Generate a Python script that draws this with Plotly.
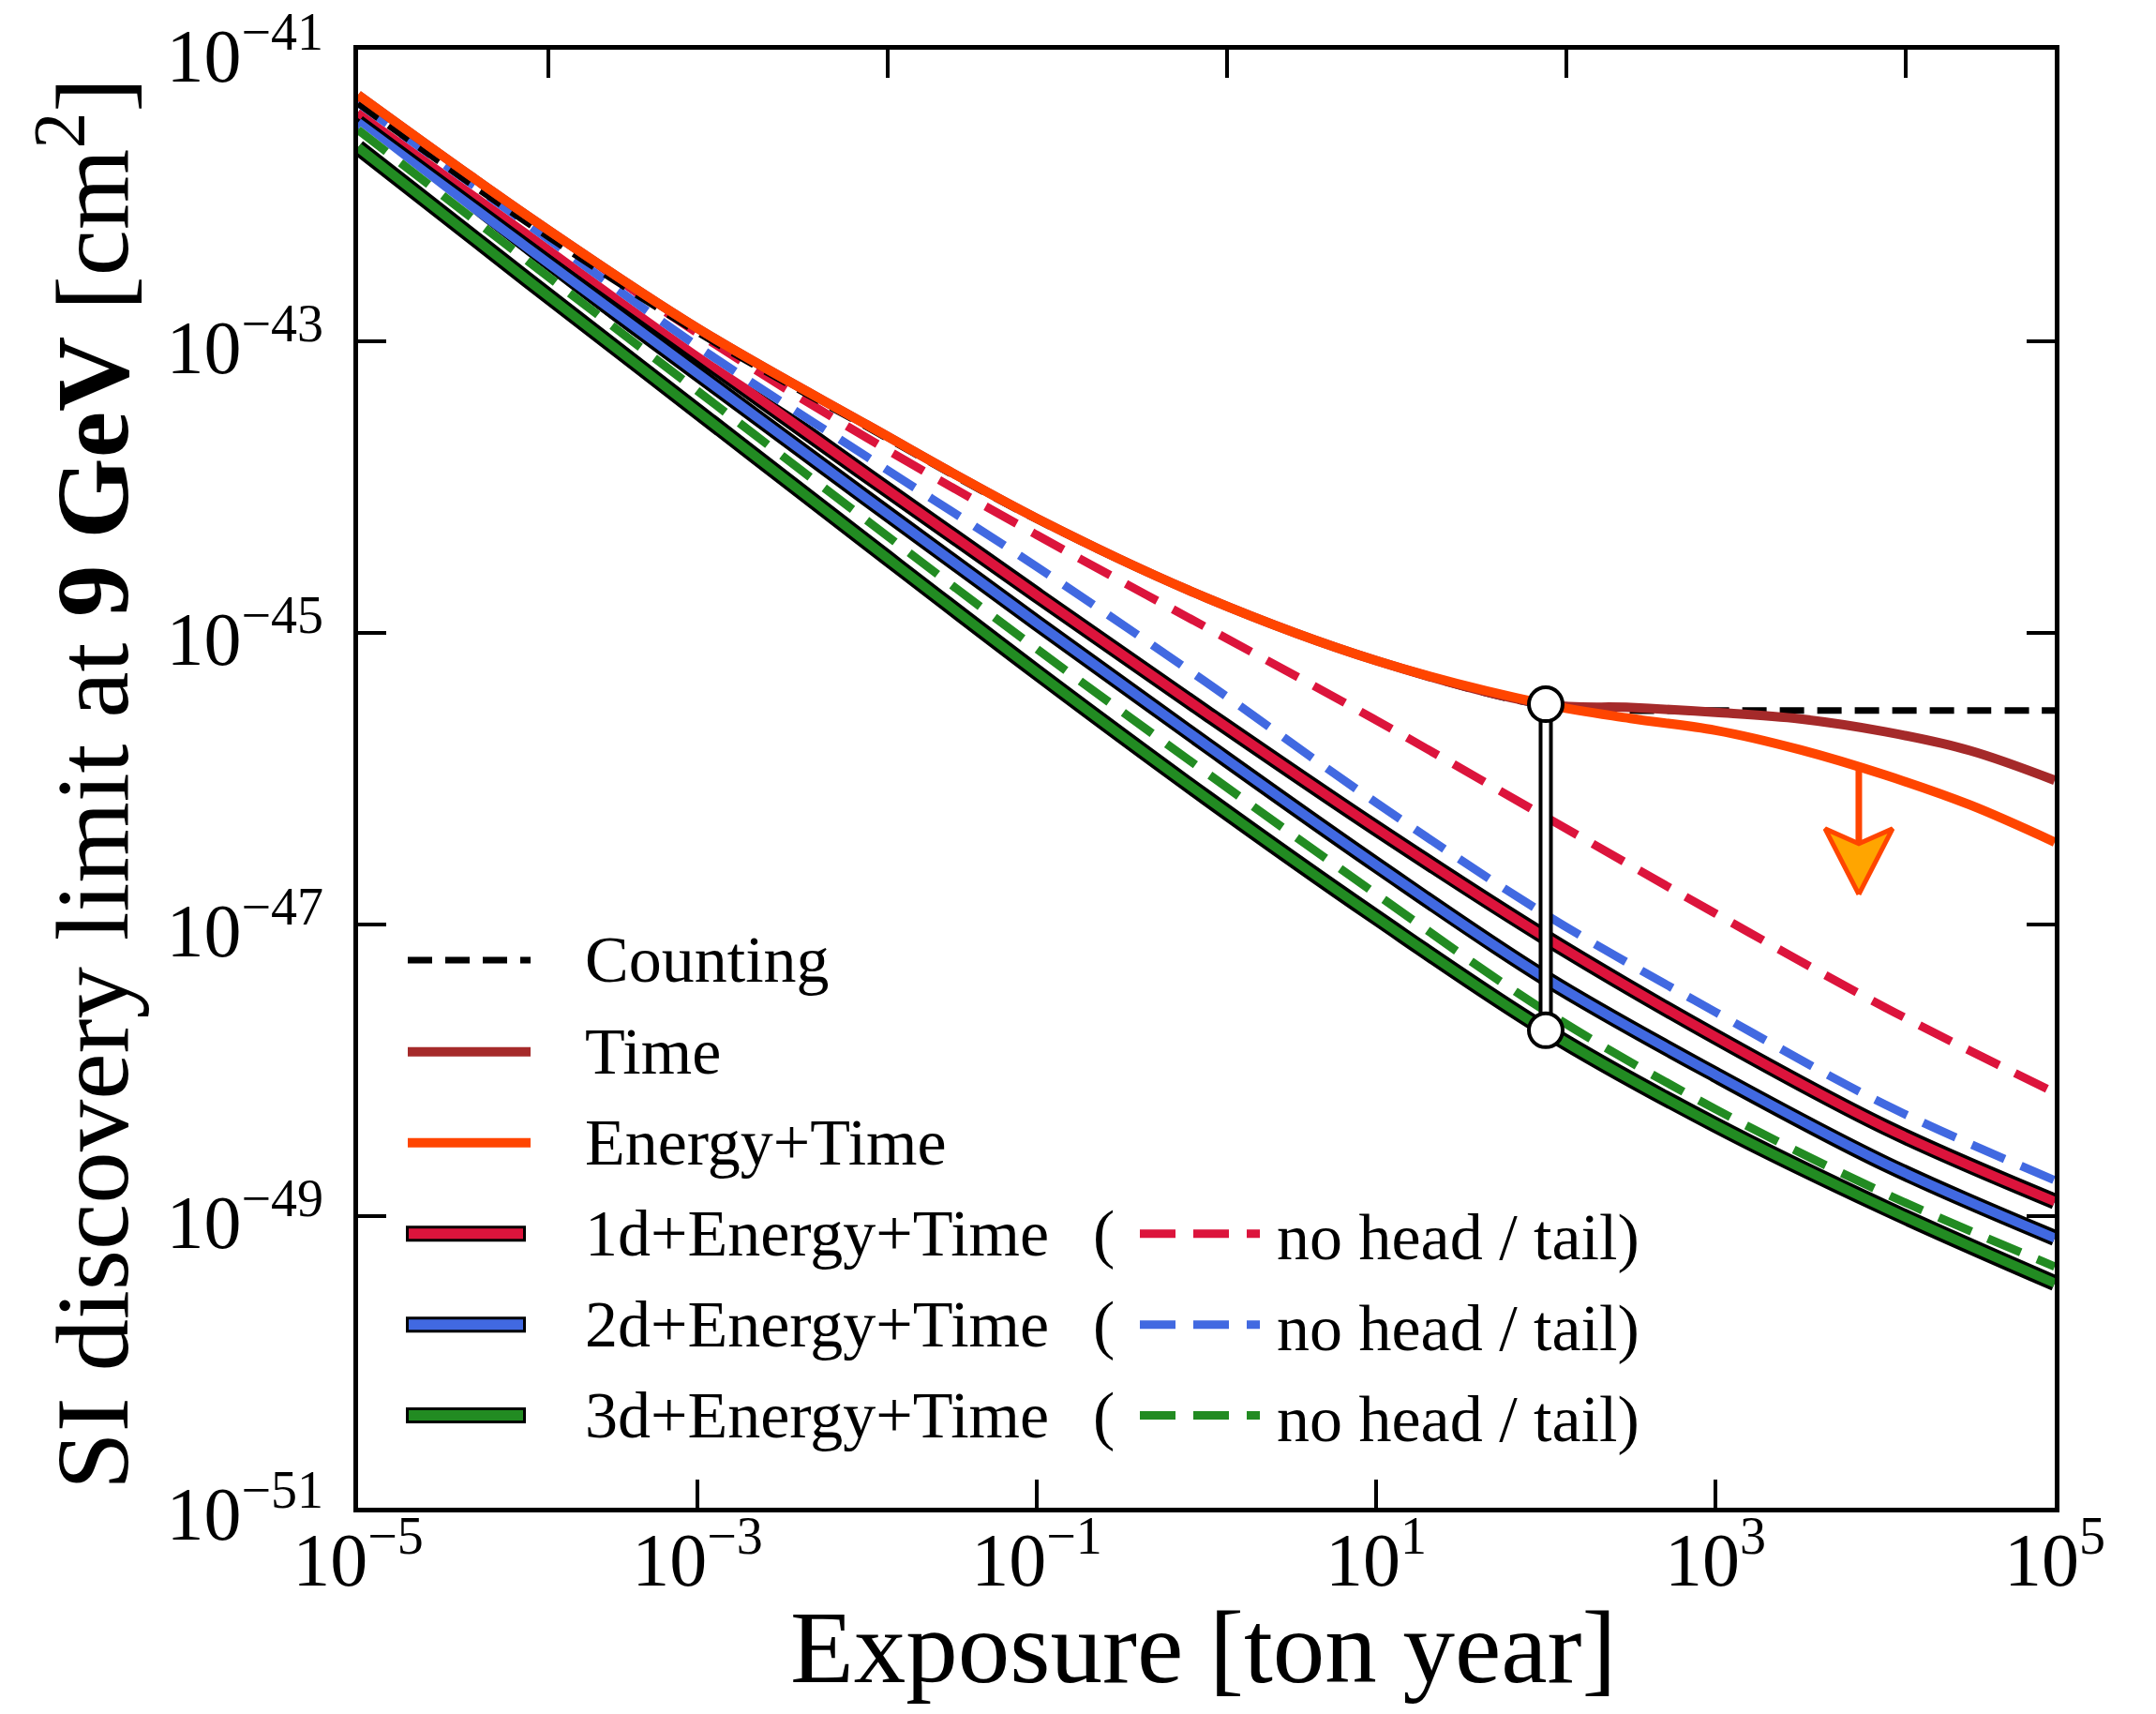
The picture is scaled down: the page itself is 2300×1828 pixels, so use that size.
import numpy as np
import plotly.graph_objects as go

# ---------------- data ----------------
EXPOSURE = [1e-5, 1e-4, 1e-3, 1e-2, 1e-1, 1, 10, 100, 1e3, 1e4, 1e5]
EXPOSURE_TAIL = [1e-5, 1e-4, 1e-3, 1e-2, 1e-1, 1, 10, 100, 316, 1e3, 3162, 1e4, 31623, 1e5]

LIMIT_COUNTING = [4.27e-42, 6.46e-43, 1.15e-43, 2.57e-44, 5.96e-45, 1.72e-45, 6.38e-46, 3.16e-46,
                  2.94e-46, 2.94e-46, 2.94e-46, 2.94e-46, 2.94e-46, 2.94e-46]
LIMIT_TIME = [4.90e-42, 7.24e-43, 1.23e-43, 2.67e-44, 6.10e-45, 1.74e-45, 6.46e-46, 3.24e-46,
              3.08e-46, 2.85e-46, 2.57e-46, 2.10e-46, 1.56e-46, 9.75e-47]
LIMIT_ENERGY_TIME = [4.90e-42, 7.24e-43, 1.23e-43, 2.67e-44, 6.10e-45, 1.74e-45, 6.46e-46, 3.24e-46,
                     2.59e-46, 2.15e-46, 1.58e-46, 1.06e-46, 6.61e-47, 3.67e-47]

LIMIT_1D = [3.72e-42, 5.50e-43, 8.13e-44, 1.20e-44, 1.82e-45, 2.82e-46, 4.57e-47, 8.13e-48, 1.70e-48, 4.07e-49, 1.26e-49]
LIMIT_1D_NOHT = [4.54e-42, 7.03e-43, 1.14e-43, 2.17e-44, 4.70e-45, 1.09e-45, 2.52e-46, 5.46e-47, 1.19e-47, 2.70e-48, 7.03e-49]
LIMIT_2D = [3.16e-42, 4.37e-43, 6.03e-44, 8.32e-45, 1.17e-45, 1.70e-46, 2.57e-47, 4.27e-48, 9.33e-49, 2.29e-49, 7.08e-50]
LIMIT_2D_NOHT = [4.32e-42, 6.35e-43, 9.25e-44, 1.61e-44, 2.84e-45, 4.58e-46, 6.85e-47, 1.17e-47, 2.51e-48, 5.82e-49, 1.76e-49]
LIMIT_3D = [2.14e-42, 2.63e-43, 3.31e-44, 4.17e-45, 5.37e-46, 7.41e-47, 1.12e-47, 1.88e-48, 4.22e-49, 1.14e-49, 3.47e-50]
LIMIT_3D_NOHT = [2.82e-42, 3.55e-43, 4.57e-44, 5.89e-45, 7.76e-46, 1.10e-46, 1.62e-47, 2.54e-48, 5.42e-49, 1.43e-49, 4.51e-50]

# improvement bar at 100 ton year
BAR_X = [100, 100]
BAR_Y = [3.24e-46, 1.88e-48]

# arrow below Energy+Time curve
ARROW_X = 7.0e3
ARROW_Y_START = 1.15e-46
ARROW_Y_TIP = 1.61e-47

X_TICK_VALUES = [1e-5, 1e-3, 1e-1, 1e1, 1e3, 1e5]
X_TICK_LABELS = ["10<sup>\u22125</sup>", "10<sup>\u22123</sup>", "10<sup>\u22121</sup>",
                 "10<sup>1</sup>", "10<sup>3</sup>", "10<sup>5</sup>"]
TOP_TICK_VALUES = [1.32e-4, 1.32e-2, 1.32, 1.32e2, 1.32e4]
Y_TICK_VALUES = [1e-41, 1e-43, 1e-45, 1e-47, 1e-49, 1e-51]
Y_TICK_LABELS = ["10<sup>\u221241</sup>", "10<sup>\u221243</sup>", "10<sup>\u221245</sup>",
                 "10<sup>\u221247</sup>", "10<sup>\u221249</sup>", "10<sup>\u221251</sup>"]

LEGEND_SIMPLE = ["Counting", "Time", "Energy+Time"]
LEGEND_DIM = ["1d+Energy+Time", "2d+Energy+Time", "3d+Energy+Time"]
LEGEND_NOHT = "no head / tail)"

# ---------------- styling ----------------
C_ORANGE = "#FF4500"
C_BROWN = "#A52A2A"
C_RED = "#DC143C"
C_BLUE = "#4169E1"
C_GREEN = "#228B22"
C_HEAD = "#FFA500"
FONT = "Liberation Serif"

OFF = 8                      # page body margin of the html page
W, H = 2300 - 2 * OFF, 1828 - 2 * OFF
# plot area in page pixels
PL, PR, PT, PB = 382, 2192, 52.5, 1608.5
XDEC = (PR - PL) / 10.0
YDEC = (PB - PT) / 10.0
DASH_COL = "38px,19px"
DASH_CNT = "26px,14px"


def px(X):
    return (X - PL) / (PR - PL)


def py(Y):
    return (PB - Y) / (PB - PT)


fig = go.Figure()


def solid_outlined(x, y, color):
    fig.add_trace(go.Scatter(x=x, y=y, mode="lines", line=dict(color="black", width=17, shape="spline"),
                             hoverinfo="skip", showlegend=False))
    fig.add_trace(go.Scatter(x=x, y=y, mode="lines", line=dict(color=color, width=10, shape="spline"),
                             hoverinfo="skip", showlegend=False))


def dashed(x, y, color):
    fig.add_trace(go.Scatter(x=x, y=y, mode="lines", line=dict(color="white", width=9, shape="spline"),
                             hoverinfo="skip", showlegend=False))
    fig.add_trace(go.Scatter(x=x, y=y, mode="lines",
                             line=dict(color=color, width=9, dash=DASH_COL, shape="spline"),
                             hoverinfo="skip", showlegend=False))


solid_outlined(EXPOSURE, LIMIT_1D, C_RED)
solid_outlined(EXPOSURE, LIMIT_2D, C_BLUE)
solid_outlined(EXPOSURE, LIMIT_3D, C_GREEN)
dashed(EXPOSURE, LIMIT_1D_NOHT, C_RED)
dashed(EXPOSURE, LIMIT_2D_NOHT, C_BLUE)
dashed(EXPOSURE, LIMIT_3D_NOHT, C_GREEN)

fig.add_trace(go.Scatter(x=EXPOSURE_TAIL, y=LIMIT_COUNTING, mode="lines",
                         line=dict(color="black", width=7, dash=DASH_CNT, shape="spline"),
                         hoverinfo="skip", showlegend=False))
fig.add_trace(go.Scatter(x=EXPOSURE_TAIL, y=LIMIT_TIME, mode="lines",
                         line=dict(color=C_BROWN, width=10, shape="spline"),
                         hoverinfo="skip", showlegend=False))
fig.add_trace(go.Scatter(x=EXPOSURE_TAIL, y=LIMIT_ENERGY_TIME, mode="lines",
                         line=dict(color=C_ORANGE, width=10, shape="spline"),
                         hoverinfo="skip", showlegend=False))

# arrow: shaft + notched head, built in log space around ARROW_X / ARROW_Y_TIP
lx = np.log10(ARROW_X)
ltip = np.log10(ARROW_Y_TIP)
head_len = 70 / YDEC
notch = 54 / YDEC
half_w = 36 / XDEC
fig.add_trace(go.Scatter(x=[ARROW_X, ARROW_X], y=[ARROW_Y_START, 10 ** (ltip + notch)], mode="lines",
                         line=dict(color=C_ORANGE, width=7), hoverinfo="skip", showlegend=False))
hx = [10 ** lx, 10 ** (lx - half_w), 10 ** lx, 10 ** (lx + half_w), 10 ** lx]
hy = [ARROW_Y_TIP, 10 ** (ltip + head_len), 10 ** (ltip + notch), 10 ** (ltip + head_len), ARROW_Y_TIP]
fig.add_trace(go.Scatter(x=hx, y=hy, mode="lines", fill="toself", fillcolor=C_HEAD,
                         line=dict(color=C_ORANGE, width=5), hoverinfo="skip", showlegend=False))

# improvement bar with circles (on the overlay axis so it sits above all curves)
fig.add_trace(go.Scatter(x=BAR_X, y=BAR_Y, mode="lines", line=dict(color="black", width=15),
                         xaxis="x2", hoverinfo="skip", showlegend=False))
fig.add_trace(go.Scatter(x=BAR_X, y=BAR_Y, mode="lines", line=dict(color="white", width=7),
                         xaxis="x2", hoverinfo="skip", showlegend=False))
fig.add_trace(go.Scatter(x=BAR_X, y=BAR_Y, mode="markers", xaxis="x2",
                         marker=dict(size=36, color="white", line=dict(color="black", width=4)),
                         hoverinfo="skip", showlegend=False))

# ---------------- legend (drawn manually) ----------------
ROW_Y = [1024, 1122, 1219, 1316, 1413, 1510]
SAMPLE_X0, SAMPLE_X1 = 435, 566
TEXT_X = 622
LEG_FONT = 70


def hline(X0, X1, Y, color, width, dash="solid"):
    fig.add_shape(type="line", xref="paper", yref="paper", x0=px(X0), x1=px(X1), y0=py(Y), y1=py(Y),
                  line=dict(color=color, width=width, dash=dash))


hline(SAMPLE_X0, SAMPLE_X1, ROW_Y[0], "black", 7, DASH_CNT)
hline(SAMPLE_X0, SAMPLE_X1, ROW_Y[1], C_BROWN, 10)
hline(SAMPLE_X0, SAMPLE_X1, ROW_Y[2], C_ORANGE, 10)
for i, col in enumerate([C_RED, C_BLUE, C_GREEN]):
    Y = ROW_Y[3 + i]
    hline(SAMPLE_X0 - 2, SAMPLE_X1 - 5, Y, "black", 17)
    hline(SAMPLE_X0 + 1, SAMPLE_X1 - 8, Y, col, 11)
    hline(1216, 1344, Y, col, 9, DASH_COL)

annots = []
for i, t in enumerate(LEGEND_SIMPLE):
    annots.append(dict(text=t, x=px(TEXT_X), y=py(ROW_Y[i]), xanchor="left", yanchor="middle"))
for i, t in enumerate(LEGEND_DIM):
    Y = ROW_Y[3 + i]
    annots.append(dict(text=t, x=px(TEXT_X), y=py(Y), xanchor="left", yanchor="middle"))
    annots.append(dict(text="(", x=px(1164), y=py(Y), xanchor="left", yanchor="middle"))
    annots.append(dict(text=LEGEND_NOHT, x=px(1360), y=py(Y + 4), xanchor="left", yanchor="middle"))
for a in annots:
    a.update(xref="paper", yref="paper", showarrow=False,
             font=dict(family=FONT, size=LEG_FONT, color="black"))

# axis titles
annots.append(dict(text="Exposure [ton year]", x=px(1284), y=py(1757), xref="paper", yref="paper",
                   xanchor="center", yanchor="middle", showarrow=False,
                   font=dict(family=FONT, size=111, color="black")))
annots.append(dict(text="SI discovery limit at <b>9 GeV</b> [cm<sup>2</sup>]", x=px(90), y=py(836),
                   xref="paper", yref="paper", xanchor="center", yanchor="middle", textangle=-90,
                   showarrow=False, font=dict(family=FONT, size=111, color="black")))

axis_common = dict(type="log", showgrid=False, zeroline=False, ticks="inside", ticklen=30, tickwidth=4,
                   tickcolor="black", linecolor="black", linewidth=5, ticklabeloverflow="allow",
                   automargin=False, tickfont=dict(family=FONT, size=80, color="black"))

fig.update_layout(
    width=W, height=H, autosize=False,
    margin=dict(l=PL - OFF, r=W - (PR - OFF), t=PT - OFF, b=H - (PB - OFF), pad=0,
                autoexpand=False),
    paper_bgcolor="white", plot_bgcolor="white",
    showlegend=False,
    xaxis=dict(range=[-5, 5], tickvals=X_TICK_VALUES, ticktext=X_TICK_LABELS, mirror=True,
               ticklabelstandoff=-18, **axis_common),
    xaxis2=dict(range=[-5, 5], tickvals=TOP_TICK_VALUES, overlaying="x", side="top", anchor="y",
                showticklabels=False, type="log", showgrid=False, zeroline=False, ticks="inside",
                ticklen=30, tickwidth=4, tickcolor="black", showline=False, automargin=False),
    yaxis=dict(range=[-51, -41], tickvals=Y_TICK_VALUES, ticktext=Y_TICK_LABELS, mirror="ticks",
               ticklabelstandoff=16, ticklabelshift=6, **axis_common),
    annotations=annots,
)

fig.write_html("out.html")
